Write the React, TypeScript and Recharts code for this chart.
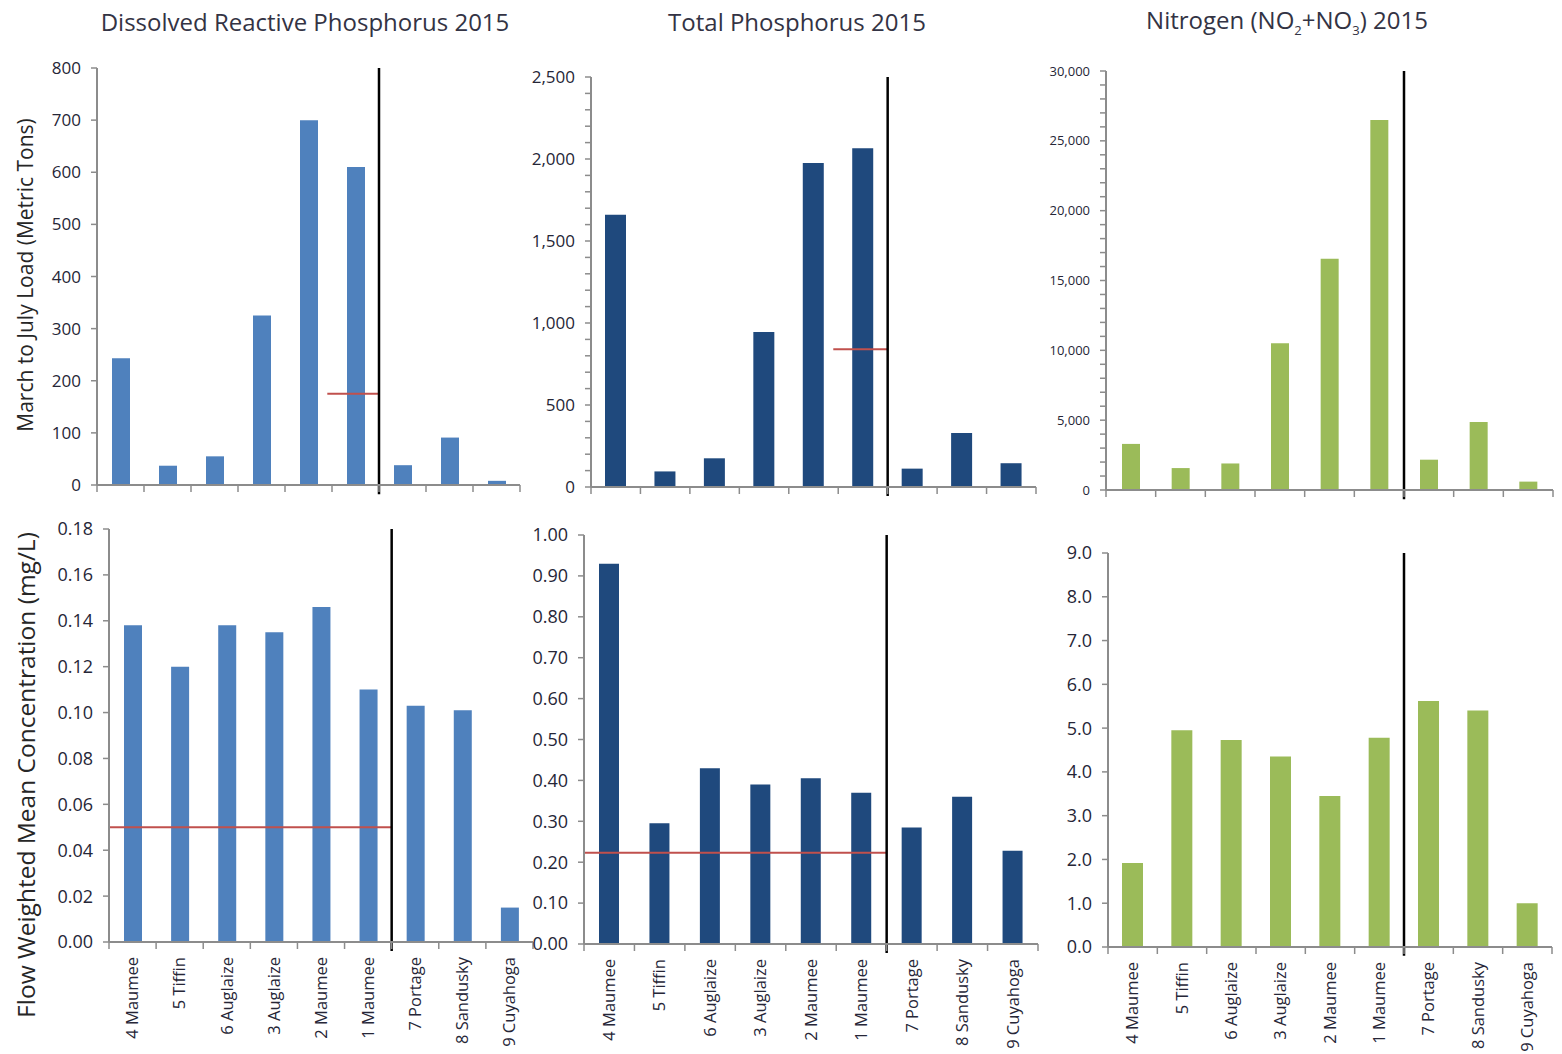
import React from 'react';
import { BarChart, Bar, XAxis, YAxis, ReferenceLine } from 'recharts';

// sampling sites, west to east (divider sits after 1 Maumee)
const sites = ['4 Maumee', '5 Tiffin', '6 Auglaize', '3 Auglaize', '2 Maumee', '1 Maumee', '7 Portage', '8 Sandusky', '9 Cuyahoga'];

// March to July load (metric tons)
const drpLoad = [243, 37, 55, 325, 700, 610, 38, 91, 8];
const tpLoad = [1660, 95, 175, 945, 1975, 2065, 112, 330, 145];
const nLoad = [3300, 1570, 1900, 10500, 16550, 26500, 2170, 4870, 600];

// flow weighted mean concentration (mg/L)
const drpFwmc = [0.138, 0.12, 0.138, 0.135, 0.146, 0.11, 0.103, 0.101, 0.015];
const tpFwmc = [0.93, 0.295, 0.43, 0.39, 0.405, 0.37, 0.285, 0.36, 0.228];
const nFwmc = [1.92, 4.95, 4.73, 4.35, 3.45, 4.78, 5.62, 5.4, 1.0];

// targets (red lines)
const drpLoadTarget = 175;
const tpLoadTarget = 840;
const drpFwmcTarget = 0.05;
const tpFwmcTarget = 0.223;

// y-axis major ticks
const drpLoadTicks = [0, 100, 200, 300, 400, 500, 600, 700, 800];
const tpLoadTicks = [0, 500, 1000, 1500, 2000, 2500];
const nLoadTicks = [0, 5000, 10000, 15000, 20000, 25000, 30000];
const drpFwmcTicks = [0, 0.02, 0.04, 0.06, 0.08, 0.1, 0.12, 0.14, 0.16, 0.18];
const tpFwmcTicks = [0, 0.1, 0.2, 0.3, 0.4, 0.5, 0.6, 0.7, 0.8, 0.9, 1.0];
const nFwmcTicks = [0, 1, 2, 3, 4, 5, 6, 7, 8, 9];

const bandEdges = [0, 1, 2, 3, 4, 5, 6, 7, 8, 9];
const bandCenters = [0.5, 1.5, 2.5, 3.5, 4.5, 5.5, 6.5, 7.5, 8.5];
const DIVIDE_AT = 6;

const FONT = '"Open Sans", "DejaVu Sans", sans-serif';
const AXIS = '#8c8c8c';
const TEXT = '#262637';

const YW = 80;
const M_TOP = 16;
const M_RIGHT = 8;
const PAGE_BOTTOM = 1053;

const withComma = (v: number) => v.toLocaleString('en-US');

function SiteTick(props: any) {
  const { x, y, payload } = props;
  const label = sites[Math.floor(payload.value)];
  return (
    <text
      x={x}
      y={y}
      dy="0.35em"
      transform={`rotate(-90, ${x}, ${y})`}
      textAnchor="end"
      fill={TEXT}
      fontSize={16.5}
      fontFamily={FONT}
    >
      {label}
    </text>
  );
}

interface PanelProps {
  left: number;
  top: number;
  plotW: number;
  plotH: number;
  values: number[];
  color: string;
  barSize: number;
  majors: number[];
  minorStep?: number;
  fmt: (v: number) => string;
  fontSize: number;
  target?: number;
  targetFrom?: number;
  names?: boolean;
}

function Panel(p: PanelProps) {
  const data = p.values.map((value, i) => ({ x: i + 0.5, site: sites[i], value }));
  const max = p.majors[p.majors.length - 1];

  let ticks = p.majors;
  if (p.minorStep) {
    ticks = [];
    for (let v = 0; v <= max; v += p.minorStep) ticks.push(v);
  }

  const namesH = p.names ? PAGE_BOTTOM - (p.top + p.plotH + 10) : 4;
  const width = YW + p.plotW + M_RIGHT;
  const height = M_TOP + p.plotH + 10 + namesH;

  return (
    <div style={{ position: 'absolute', left: p.left - YW, top: p.top - M_TOP }}>
      <BarChart width={width} height={height} data={data} margin={{ top: M_TOP, right: M_RIGHT, bottom: 0, left: 0 }}>
        <XAxis
          type="number"
          dataKey="x"
          domain={[0, 9]}
          ticks={bandEdges}
          interval={0}
          height={10}
          tickSize={7}
          tickFormatter={() => ''}
          axisLine={{ stroke: AXIS, strokeWidth: 2 }}
          tickLine={{ stroke: AXIS, strokeWidth: 1.5 }}
          allowDataOverflow
        />
        {p.names && (
          <XAxis
            xAxisId="names"
            type="number"
            dataKey="x"
            domain={[0, 9]}
            ticks={bandCenters}
            interval={0}
            height={namesH}
            tickSize={0}
            tickMargin={5}
            axisLine={false}
            tickLine={false}
            tick={(t: any) => <SiteTick {...t} />}
            allowDataOverflow
          />
        )}
        <YAxis
          type="number"
          domain={[0, max]}
          ticks={ticks}
          interval={0}
          width={YW}
          tickSize={6}
          tickMargin={10}
          tickFormatter={(v: number) => (p.majors.includes(v) ? p.fmt(v) : '')}
          axisLine={{ stroke: AXIS, strokeWidth: 2 }}
          tickLine={{ stroke: AXIS, strokeWidth: 1.5 }}
          tick={{ fill: TEXT, fontSize: p.fontSize, fontFamily: FONT }}
          allowDataOverflow
        />
        <Bar dataKey="value" fill={p.color} barSize={p.barSize} isAnimationActive={false} />
        {p.target !== undefined && (
          <ReferenceLine
            segment={[
              { x: p.targetFrom ?? 0, y: p.target },
              { x: DIVIDE_AT, y: p.target },
            ]}
            stroke="#c0504d"
            strokeWidth={2}
            ifOverflow="visible"
          />
        )}
        <ReferenceLine
          segment={[
            { x: DIVIDE_AT, y: max },
            { x: DIVIDE_AT, y: -max * 0.022 },
          ]}
          stroke="#000"
          strokeWidth={2.5}
          ifOverflow="visible"
        />
      </BarChart>
    </div>
  );
}

const titleStyle: React.CSSProperties = {
  position: 'absolute',
  top: 21,
  transform: 'translate(-50%, -50%)',
  whiteSpace: 'nowrap',
  fontFamily: FONT,
  fontSize: 24,
  color: '#333344',
};

function vLabel(cx: number, cy: number, size: number): React.CSSProperties {
  return {
    position: 'absolute',
    left: cx,
    top: cy,
    transform: 'translate(-50%, -50%) rotate(-90deg)',
    whiteSpace: 'nowrap',
    fontFamily: FONT,
    fontSize: size,
    color: '#262626',
  };
}

export default function App() {
  return (
    <div style={{ position: 'absolute', left: 0, top: 0, width: 1562, height: 1054, overflow: 'hidden', background: '#fff' }}>
      <div style={{ ...titleStyle, left: 305 }}>Dissolved Reactive Phosphorus 2015</div>
      <div style={{ ...titleStyle, left: 797 }}>Total Phosphorus 2015</div>
      <div style={{ ...titleStyle, left: 1287 }}>
        Nitrogen (NO<sub style={{ fontSize: 13 }}>2</sub>+NO<sub style={{ fontSize: 13 }}>3</sub>) 2015
      </div>

      <div style={vLabel(25, 275, 21)}>March to July Load (Metric Tons)</div>
      <div style={vLabel(25, 775, 24.5)}>Flow Weighted Mean Concentration (mg/L)</div>

      <Panel left={97} top={68} plotW={423} plotH={413} values={drpLoad} color="#4f81bd" barSize={18}
        majors={drpLoadTicks} fmt={(v) => String(v)} fontSize={17} target={drpLoadTarget} targetFrom={4.9} />
      <Panel left={591} top={77} plotW={445} plotH={406} values={tpLoad} color="#1f497d" barSize={21}
        majors={tpLoadTicks} minorStep={100} fmt={withComma} fontSize={17} target={tpLoadTarget} targetFrom={4.9} />
      <Panel left={1106} top={71} plotW={447} plotH={415} values={nLoad} color="#9bbb59" barSize={18}
        majors={nLoadTicks} minorStep={1000} fmt={withComma} fontSize={13} />

      <Panel left={109} top={529} plotW={424} plotH={413} values={drpFwmc} color="#4f81bd" barSize={18}
        majors={drpFwmcTicks} fmt={(v) => v.toFixed(2)} fontSize={18} target={drpFwmcTarget} targetFrom={0} names />
      <Panel left={584} top={535} plotW={454} plotH={409} values={tpFwmc} color="#1f497d" barSize={20}
        majors={tpFwmcTicks} fmt={(v) => v.toFixed(2)} fontSize={18} target={tpFwmcTarget} targetFrom={0} names />
      <Panel left={1108} top={553} plotW={444} plotH={394} values={nFwmc} color="#9bbb59" barSize={21}
        majors={nFwmcTicks} fmt={(v) => v.toFixed(1)} fontSize={18} names />
    </div>
  );
}
